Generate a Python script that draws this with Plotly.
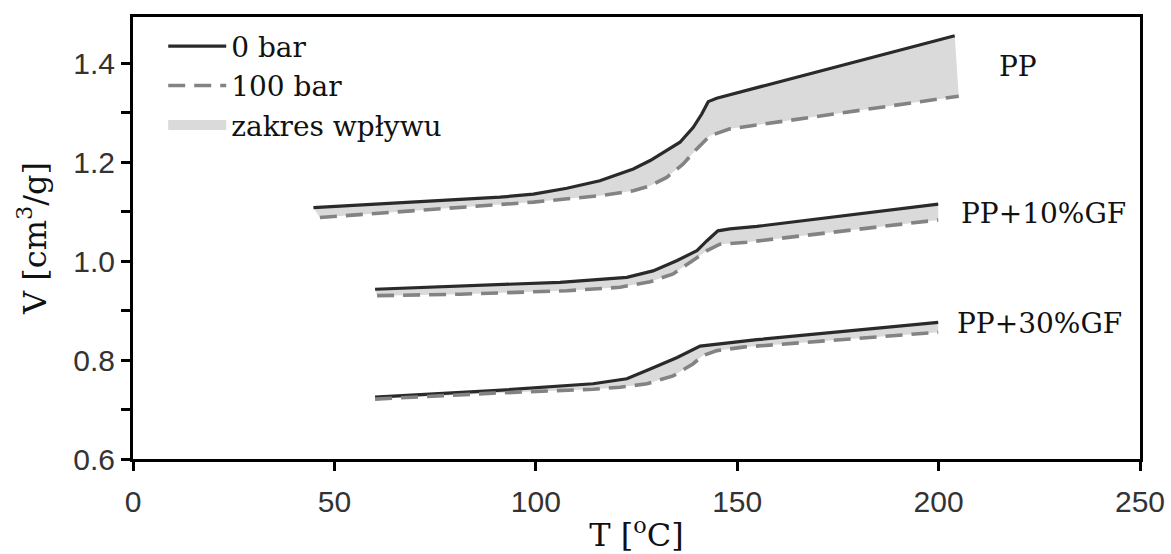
import plotly.graph_objects as go

# ---- data (T in °C, V in cm3/g) ----
pp_T0 = [44.8, 58.0, 74.6, 91.1, 99.4, 107.7, 115.9, 124.2, 128.4, 132.5, 135.8, 139.1, 141.2, 142.8, 144.9, 204.0]
pp_V0 = [1.108, 1.114, 1.121, 1.129, 1.135, 1.147, 1.162, 1.186, 1.203, 1.223, 1.240, 1.270, 1.297, 1.322, 1.329, 1.455]
pp_T100 = [46.4, 74.6, 99.4, 115.9, 124.2, 128.4, 132.5, 136.6, 139.9, 143.2, 148.2, 205.0]
pp_V100 = [1.088, 1.104, 1.119, 1.132, 1.142, 1.152, 1.169, 1.196, 1.226, 1.253, 1.267, 1.333]

gf10_T0 = [60.1, 81.2, 106.0, 122.6, 129.1, 135.1, 140.0, 142.5, 145.2, 148.2, 154.9, 199.9]
gf10_V0 = [0.943, 0.950, 0.957, 0.967, 0.980, 1.001, 1.021, 1.041, 1.061, 1.065, 1.070, 1.115]
gf10_T100 = [60.6, 81.2, 107.7, 120.9, 128.4, 134.1, 139.0, 142.5, 145.7, 152.4, 199.9]
gf10_V100 = [0.930, 0.933, 0.940, 0.947, 0.958, 0.974, 1.001, 1.021, 1.034, 1.038, 1.083]

gf30_T0 = [60.1, 89.4, 114.2, 122.6, 128.4, 135.1, 140.8, 147.5, 154.9, 199.9]
gf30_V0 = [0.725, 0.738, 0.752, 0.762, 0.782, 0.805, 0.828, 0.834, 0.841, 0.876]
gf30_T100 = [60.1, 89.4, 114.2, 120.9, 127.6, 134.1, 139.0, 141.5, 145.0, 151.4, 199.9]
gf30_V100 = [0.721, 0.733, 0.741, 0.745, 0.752, 0.768, 0.792, 0.809, 0.819, 0.826, 0.856]

series = [
    ("PP", pp_T0, pp_V0, pp_T100, pp_V100),
    ("PP+10%GF", gf10_T0, gf10_V0, gf10_T100, gf10_V100),
    ("PP+30%GF", gf30_T0, gf30_V0, gf30_T100, gf30_V100),
]
label_T = [214.5, 205.0, 204.0]
label_V = [1.392, 1.095, 0.873]

legend_names = ["0 bar", "100 bar", "zakres wpływu"]

SERIF = "DejaVu Serif"
SANS = "Liberation Sans"
SOLID_C = "#2a2a2a"
DASH_C = "#838383"
FILL_C = "#dadada"

fig = go.Figure()

# fills (drawn first so lines sit on top)
for i, (name, t0, v0, t1, v1) in enumerate(series):
    fig.add_trace(go.Scatter(
        x=list(t0) + list(t1)[::-1],
        y=list(v0) + list(v1)[::-1],
        mode="lines", fill="toself", fillcolor=FILL_C,
        line=dict(width=0, color=FILL_C),
        name=legend_names[2], legendgroup="fill",
        showlegend=False, hoverinfo="skip",
    ))

# legend-only entry for the shaded band (thick swatch like the reference)
fig.add_trace(go.Scatter(
    x=[None], y=[None], mode="lines",
    line=dict(color=FILL_C, width=13),
    name=legend_names[2], legendgroup="fill", legendrank=3,
    showlegend=True, hoverinfo="skip",
))

for i, (name, t0, v0, t1, v1) in enumerate(series):
    fig.add_trace(go.Scatter(
        x=t0, y=v0, mode="lines",
        line=dict(color=SOLID_C, width=3.2),
        name=legend_names[0], legendgroup="solid", legendrank=1,
        showlegend=(i == 0),
    ))
    fig.add_trace(go.Scatter(
        x=t1, y=v1, mode="lines",
        line=dict(color=DASH_C, width=3.6, dash="17px,9px"),
        name=legend_names[1], legendgroup="dash", legendrank=2,
        showlegend=(i == 0),
    ))

for (name, *_), lt, lv in zip(series, label_T, label_V):
    fig.add_annotation(x=lt, y=lv, text=name, showarrow=False,
                       xanchor="left", yanchor="middle",
                       font=dict(family=SERIF, size=28, color="#111"))

axis_common = dict(
    showline=True, linecolor="black", linewidth=3, mirror=True,
    ticks="outside", ticklen=9, tickwidth=3, tickcolor="black",
    showgrid=False, zeroline=False, automargin=False,
    tickfont=dict(family=SANS, size=30, color="#333"),
    title_font=dict(family=SERIF, size=32, color="#111"),
)

fig.update_xaxes(range=[0, 250], tickvals=[0, 50, 100, 150, 200, 250],
                 title_text="T [<sup>o</sup>C]", title_standoff=9,
                 ticklabelstandoff=5, **axis_common)
fig.update_yaxes(range=[0.6, 1.493], tickvals=[0.6, 0.8, 1.0, 1.2, 1.4],
                 ticktext=["0.6", "0.8", "1.0", "1.2", "1.4"],
                 minor=dict(tickvals=[0.7, 0.9, 1.1, 1.3], ticks="outside",
                            ticklen=9, tickwidth=3, tickcolor="black"),
                 title_text="V [cm<sup>3</sup>/g]", title_standoff=18, **axis_common)

fig.update_layout(
    width=1171, height=554,
    margin=dict(l=133, r=31, t=17, b=95),
    plot_bgcolor="white", paper_bgcolor="white",
    showlegend=True,
    legend=dict(x=0.03, y=0.99, xanchor="left", yanchor="top",
                bgcolor="rgba(0,0,0,0)", tracegroupgap=0,
                font=dict(family=SERIF, size=28, color="#111"),
                itemwidth=58),
)

fig.write_html("out.html")
